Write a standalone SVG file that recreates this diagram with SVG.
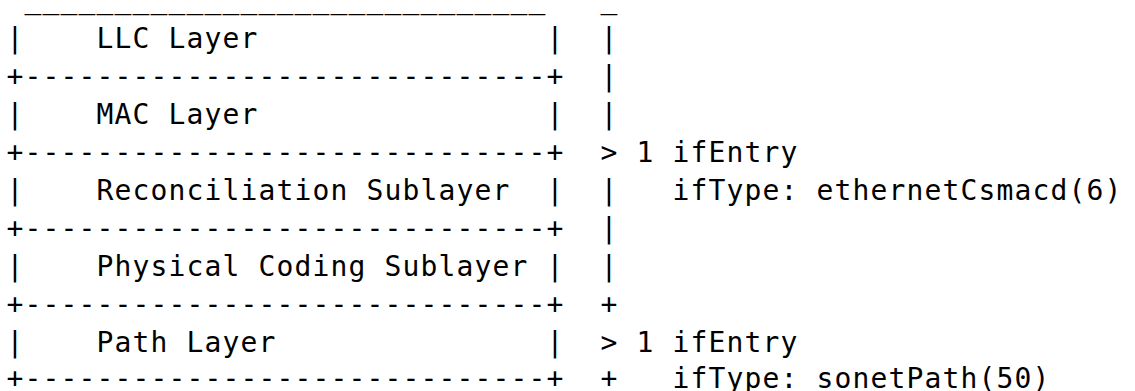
<svg xmlns="http://www.w3.org/2000/svg" width="1135" height="391" viewBox="0 0 1135 391">
<style>
  text { font-family: "DejaVu Sans Mono", "Liberation Mono", monospace; font-size: 28px; letter-spacing: 1.14px; fill: #000; }
</style>
<rect width="1135" height="391" fill="#fff"/>
<g id="stack-top"><text x="24.5" y="8">_____________________________</text></g>
<g id="llc-layer">
  <text x="6.5" y="48">|</text><text x="96.5" y="48">LLC Layer</text><text x="546.5" y="48">|</text>
  <text x="6.5" y="86">+-----------------------------+</text>
</g>
<g id="mac-layer">
  <text x="6.5" y="124">|</text><text x="96.5" y="124">MAC Layer</text><text x="546.5" y="124">|</text>
  <text x="6.5" y="162">+-----------------------------+</text>
</g>
<g id="reconciliation-sublayer">
  <text x="6.5" y="200">|</text><text x="96.5" y="200">Reconciliation Sublayer</text><text x="546.5" y="200">|</text>
  <text x="6.5" y="238">+-----------------------------+</text>
</g>
<g id="physical-coding-sublayer">
  <text x="6.5" y="276">|</text><text x="96.5" y="276">Physical Coding Sublayer</text><text x="546.5" y="276">|</text>
  <text x="6.5" y="314">+-----------------------------+</text>
</g>
<g id="path-layer">
  <text x="6.5" y="352">|</text><text x="96.5" y="352">Path Layer</text><text x="546.5" y="352">|</text>
  <text x="6.5" y="388">+-----------------------------+</text>
</g>
<g id="connectors">
  <text x="600.5" y="8">_</text>
  <text x="600.5" y="48">|</text>
  <text x="600.5" y="86">|</text>
  <text x="600.5" y="124">|</text>
  <text x="600.5" y="162">&gt;</text>
  <text x="600.5" y="200">|</text>
  <text x="600.5" y="238">|</text>
  <text x="600.5" y="276">|</text>
  <text x="600.5" y="314">+</text>
  <text x="600.5" y="352">&gt;</text>
  <text x="600.5" y="388">+</text>
</g>
<g id="ethernet-entry">
  <text x="636.5" y="162">1 ifEntry</text>
  <text x="672.5" y="200">ifType: ethernetCsmacd(6)</text>
</g>
<g id="sonet-entry">
  <text x="636.5" y="352">1 ifEntry</text>
  <text x="672.5" y="388">ifType: sonetPath(50)</text>
</g>
</svg>
